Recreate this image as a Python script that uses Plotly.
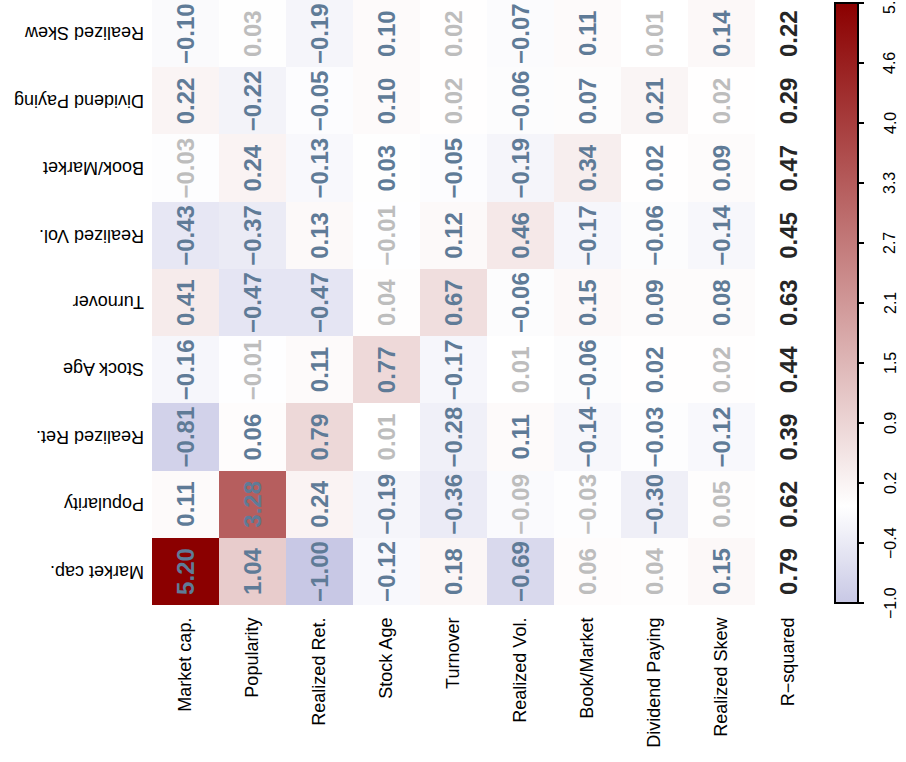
import plotly.graph_objects as go

# Characteristics (rows, bottom to top) and regression columns
row_labels = ["Market cap.", "Popularity", "Realized Ret.", "Stock Age", "Turnover",
              "Realized Vol.", "Book/Market", "Dividend Paying", "Realized Skew"]
col_labels = ["Market cap.", "Popularity", "Realized Ret.", "Stock Age", "Turnover",
              "Realized Vol.", "Book/Market", "Dividend Paying", "Realized Skew", "R\u2212squared"]

# Coefficients per row (last entry is the R-squared of that regression)
coef_market_cap = [5.20, 1.04, -1.00, -0.12, 0.18, -0.69, 0.06, 0.04, 0.15, 0.79]
coef_popularity = [0.11, 3.28, 0.24, -0.19, -0.36, -0.09, -0.03, -0.30, 0.05, 0.62]
coef_realized_ret = [-0.81, 0.06, 0.79, 0.01, -0.28, 0.11, -0.14, -0.03, -0.12, 0.39]
coef_stock_age = [-0.16, -0.01, 0.11, 0.77, -0.17, 0.01, -0.06, 0.02, 0.02, 0.44]
coef_turnover = [0.41, -0.47, -0.47, 0.04, 0.67, -0.06, 0.15, 0.09, 0.08, 0.63]
coef_realized_vol = [-0.43, -0.37, 0.13, -0.01, 0.12, 0.46, -0.17, -0.06, -0.14, 0.45]
coef_book_market = [-0.03, 0.24, -0.13, 0.03, -0.05, -0.19, 0.34, 0.02, 0.09, 0.47]
coef_dividend = [0.22, -0.22, -0.05, 0.10, 0.02, -0.06, 0.07, 0.21, 0.02, 0.29]
coef_realized_skew = [-0.10, 0.03, -0.19, 0.10, 0.02, -0.07, 0.11, 0.01, 0.14, 0.22]

# 1 = significant, 0 = not significant (coefficient columns only)
sig_market_cap = [1, 1, 1, 1, 1, 1, 0, 0, 1]
sig_popularity = [1, 1, 1, 1, 1, 0, 0, 1, 0]
sig_realized_ret = [1, 1, 1, 0, 1, 1, 1, 1, 1]
sig_stock_age = [1, 0, 1, 1, 1, 0, 1, 1, 0]
sig_turnover = [1, 1, 1, 0, 1, 1, 1, 1, 1]
sig_realized_vol = [1, 1, 1, 0, 1, 1, 1, 1, 1]
sig_book_market = [0, 1, 1, 1, 1, 1, 1, 1, 1]
sig_dividend = [1, 1, 1, 1, 0, 1, 1, 1, 0]
sig_realized_skew = [1, 0, 1, 1, 0, 1, 1, 0, 1]

# Colour bar ticks
cbar_tickvals = [-1.0, -0.38, 0.24, 0.86, 1.48, 2.1, 2.72, 3.34, 3.96, 4.58, 5.2]
cbar_ticktext = ["\u22121.0", "\u22120.4", "0.2", "0.9", "1.5", "2.1", "2.7", "3.3", "4.0", "4.6", "5.2"]

rows = [coef_market_cap, coef_popularity, coef_realized_ret, coef_stock_age, coef_turnover,
        coef_realized_vol, coef_book_market, coef_dividend, coef_realized_skew]
sigs = [sig_market_cap, sig_popularity, sig_realized_ret, sig_stock_age, sig_turnover,
        sig_realized_vol, sig_book_market, sig_dividend, sig_realized_skew]

ZMIN, ZMAX = -1.0, 5.2
zero_pos = (0 - ZMIN) / (ZMAX - ZMIN)
colorscale = [
    [0.0, "rgb(200,200,229)"],
    [zero_pos, "rgb(255,255,255)"],
    [1.0, "rgb(139,0,0)"],
]

# R-squared column is left uncoloured
z = [r[:-1] + [None] for r in rows]

FONT = "Liberation Sans, Arial, Helvetica, sans-serif"
BLUE = "#5f7b97"
GRAY = "#bdbdbd"
DARK = "#262626"

# Plot area / colour bar geometry (pixels)
PLOT_L, PLOT_R, PLOT_H = 152, 822, 605
CB_BOTTOM, CB_LEN = 2, 600          # colour bar offset from plot bottom, length
CB_LEFT, CB_THICK = 835, 23
CB_LABEL_X = 890


def cbar_y(v):
    """Paper y of a value on the colour bar."""
    return (CB_BOTTOM + (v - ZMIN) / (ZMAX - ZMIN) * CB_LEN) / PLOT_H


fig = go.Figure()
fig.add_trace(go.Heatmap(
    z=z, x=col_labels, y=row_labels,
    colorscale=colorscale, zmin=ZMIN, zmax=ZMAX,
    xgap=0, ygap=0, hoverongaps=False,
    colorbar=dict(
        thickness=CB_THICK, thicknessmode="pixels",
        len=CB_LEN, lenmode="pixels",
        x=1 + (CB_LEFT - PLOT_R) / (PLOT_R - PLOT_L), xanchor="left", xpad=0,
        y=CB_BOTTOM / PLOT_H, yanchor="bottom", ypad=0,
        outlinewidth=2, outlinecolor="black",
        tickmode="array",
        tickvals=[min(v, ZMAX - 1e-6) for v in cbar_tickvals],
        ticks="outside", ticklen=5, tickwidth=1.5, tickcolor="black",
        showticklabels=False,
    ),
))

annotations = []
for i, (rname, vals, sg) in enumerate(zip(row_labels, rows, sigs)):
    for j, (cname, v) in enumerate(zip(col_labels, vals)):
        if j == len(col_labels) - 1:
            color = DARK
        else:
            color = BLUE if sg[j] else GRAY
        txt = f"{v:.2f}".replace("-", "\u2212")
        annotations.append(dict(
            x=cname, y=rname, xref="x", yref="y", text=txt, showarrow=False,
            textangle=-90,
            font=dict(family=FONT, size=24, color=color, weight="bold"),
        ))
    # upside-down row labels on the left
    annotations.append(dict(
        x=0, y=rname, xref="paper", yref="y", text=rname, showarrow=False,
        xanchor="right", xshift=-6, textangle=180,
        font=dict(family=FONT, size=18, color="black"),
    ))

# rotated colour bar tick labels
for v, t in zip(cbar_tickvals, cbar_ticktext):
    annotations.append(dict(
        x=(CB_LABEL_X - PLOT_L) / (PLOT_R - PLOT_L), y=cbar_y(v),
        xref="paper", yref="paper", text=t, showarrow=False,
        xanchor="center", yanchor="middle", textangle=-90,
        font=dict(family=FONT, size=16, color="black"),
    ))

fig.update_layout(
    width=906, height=762,
    margin=dict(l=PLOT_L, r=906 - PLOT_R, t=0, b=762 - PLOT_H),
    paper_bgcolor="white", plot_bgcolor="white",
    annotations=annotations,
    xaxis=dict(
        type="category", tickangle=-90, showgrid=False, zeroline=False,
        ticks="", ticklabelstandoff=8,
        tickfont=dict(family=FONT, size=18, color="black"),
    ),
    yaxis=dict(type="category", showticklabels=False, showgrid=False, zeroline=False),
)

fig.write_html("out.html")
